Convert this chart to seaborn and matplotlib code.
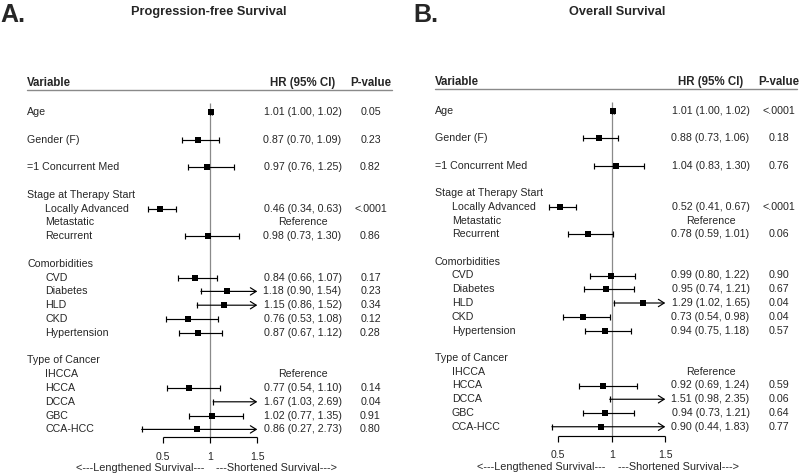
import numpy as np
import pandas as pd
import seaborn as sns
import matplotlib.pyplot as plt
from matplotlib import transforms

# --- data ---
VARIABLES = ["Age", "Gender (F)", "=1 Concurrent Med",
             "Locally Advanced", "Metastatic", "Recurrent",
             "CVD", "Diabetes", "HLD", "CKD", "Hypertension",
             "IHCCA", "HCCA", "DCCA", "GBC", "CCA-HCC"]
GROUPS = [None, None, None,
          "Stage at Therapy Start", "Stage at Therapy Start", "Stage at Therapy Start",
          "Comorbidities", "Comorbidities", "Comorbidities", "Comorbidities", "Comorbidities",
          "Type of Cancer", "Type of Cancer", "Type of Cancer", "Type of Cancer", "Type of Cancer"]

# progression-free survival (NaN = reference level)
PFS_HR = [1.01, 0.87, 0.97, 0.46, np.nan, 0.98, 0.84, 1.18, 1.15, 0.76, 0.87, np.nan, 0.77, 1.67, 1.02, 0.86]
PFS_LO = [1.00, 0.70, 0.76, 0.34, np.nan, 0.73, 0.66, 0.90, 0.86, 0.53, 0.67, np.nan, 0.54, 1.03, 0.77, 0.27]
PFS_HI = [1.02, 1.09, 1.25, 0.63, np.nan, 1.30, 1.07, 1.54, 1.52, 1.08, 1.12, np.nan, 1.10, 2.69, 1.35, 2.73]
PFS_P = ["0.05", "0.23", "0.82", "<.0001", "", "0.86", "0.17", "0.23", "0.34", "0.12", "0.28",
         "", "0.14", "0.04", "0.91", "0.80"]

# overall survival
OS_HR = [1.01, 0.88, 1.04, 0.52, np.nan, 0.78, 0.99, 0.95, 1.29, 0.73, 0.94, np.nan, 0.92, 1.51, 0.94, 0.90]
OS_LO = [1.00, 0.73, 0.83, 0.41, np.nan, 0.59, 0.80, 0.74, 1.02, 0.54, 0.75, np.nan, 0.69, 0.98, 0.73, 0.44]
OS_HI = [1.02, 1.06, 1.30, 0.67, np.nan, 1.01, 1.22, 1.21, 1.65, 0.98, 1.18, np.nan, 1.24, 2.35, 1.21, 1.83]
OS_P = ["<.0001", "0.18", "0.76", "<.0001", "", "0.06", "0.90", "0.67", "0.04", "0.04", "0.57",
        "", "0.59", "0.06", "0.64", "0.77"]

X_TICKS = [0.5, 1, 1.5]
X_TICK_LABELS = ["0.5", "1", "1.5"]

W, H = 800, 474
BODY = 7.7
HEAD = 8.3


def build_rows(hr, lo, hi, pv):
    """Assign a row to each variable, with blank rows and group headers."""
    df = pd.DataFrame({"variable": VARIABLES, "group": GROUPS,
                       "hr": hr, "lo": lo, "hi": hi, "p": pv})
    rows, headers = [], []
    r, prev = 0, "__start__"
    for g in df["group"]:
        if g is None or g != prev:
            if r > 0:
                r += 1
            if g is not None:
                headers.append((g, r))
                r += 1
        rows.append(r)
        r += 1
        prev = g
    df["row"] = rows
    return df, headers


def draw_panel(fig, left_px, x_one, ppu, y0, dy, cols, df, headers, letter, title):
    ax = fig.add_axes([left_px / W, 0, 400 / W, 1])
    xlim = (1 + (left_px - x_one) / ppu, 1 + (left_px + 400 - x_one) / ppu)
    ylim = ((H - y0) / dy, -y0 / dy)
    tr = transforms.blended_transform_factory(fig.transFigure, ax.transData)
    var_x, ind_x, hr_x, p_x, line_end = [c / W for c in cols]
    xmax = X_TICKS[-1]

    # header
    hy = -28.5 / dy
    ax.text(var_x, hy, "Variable", transform=tr, fontsize=HEAD, fontweight="bold", va="center")
    ax.text(hr_x, hy, "HR (95% CI)", transform=tr, fontsize=HEAD, fontweight="bold",
            va="center", ha="center")
    ax.text(p_x, hy, "P-value", transform=tr, fontsize=HEAD, fontweight="bold",
            va="center", ha="center")
    ax.plot([var_x, line_end], [-21.5 / dy] * 2, transform=tr, color="#8a8a8a", lw=1)

    # reference line and axis
    axis_row = 325 / dy
    ax.vlines(1, -9 / dy, axis_row, color="#8a8a8a", lw=0.9)
    ax.hlines(axis_row, X_TICKS[0], X_TICKS[-1], color="black", lw=0.85)
    ax.vlines(X_TICKS, axis_row, axis_row + 6 / dy, color="black", lw=0.85)
    for t, lab in zip(X_TICKS, X_TICK_LABELS):
        ax.text(t, axis_row + 20 / dy, lab, fontsize=7.6, ha="center", va="center")
    ax.text(1 - 6 / ppu, axis_row + 31.5 / dy, "<---Lengthened Survival---",
            fontsize=7.8, ha="right", va="center")
    ax.text(1 + 6 / ppu, axis_row + 31.5 / dy, "---Shortened Survival--->",
            fontsize=7.8, ha="left", va="center")

    # labels and table columns
    for g, r in headers:
        ax.text(var_x, r, g, transform=tr, fontsize=BODY, va="center")
    for _, d in df.iterrows():
        x = ind_x if d["group"] is not None else var_x
        ax.text(x, d["row"], d["variable"], transform=tr, fontsize=BODY, va="center")
        if np.isnan(d["hr"]):
            ax.text(hr_x, d["row"], "Reference", transform=tr, fontsize=BODY,
                    va="center", ha="center")
        else:
            ax.text(hr_x, d["row"], f"{d['hr']:.2f} ({d['lo']:.2f}, {d['hi']:.2f})",
                    transform=tr, fontsize=BODY, va="center", ha="center")
            ax.text(p_x, d["row"], d["p"], transform=tr, fontsize=BODY,
                    va="center", ha="center")

    # confidence intervals
    est = df.dropna(subset=["hr"])
    cap = 3 / dy
    inside = est[est["hi"] <= xmax]
    ax.hlines(inside["row"], inside["lo"], inside["hi"], color="black", lw=0.85)
    ax.vlines(inside["hi"], inside["row"] - cap, inside["row"] + cap, color="black", lw=0.85)
    ax.vlines(est["lo"], est["row"] - cap, est["row"] + cap, color="black", lw=0.85)
    for _, d in est[est["hi"] > xmax].iterrows():
        ax.annotate("", xy=(xmax, d["row"]), xytext=(d["lo"], d["row"]),
                    arrowprops=dict(arrowstyle="->,head_length=0.35,head_width=0.22",
                                    color="black", lw=0.85, shrinkA=0, shrinkB=0))

    # point estimates (clipped at the axis limit)
    pts = est[est["hr"] <= xmax]
    sns.scatterplot(data=pts, x="hr", y="row", marker="s", s=23, color="black",
                    linewidth=0, ax=ax, legend=False, zorder=3)
    ax.set_xlim(*xlim)
    ax.set_ylim(*ylim)
    ax.axis("off")

    fig.text((left_px + (209 if letter == "A." else 217)) / W, 1 - 12 / H, title,
             fontsize=9.2, fontweight="bold", ha="center", va="center")
    fig.text((left_px + (0 if letter == "A." else 13)) / W, 1 - 15.5 / H, letter,
             fontsize=18, fontweight="bold", ha="left", va="center")


def main():
    sns.set_theme(style="white")
    plt.rcParams["font.family"] = ["Liberation Sans", "DejaVu Sans"]

    fig = plt.figure(figsize=(W / 100, H / 100), dpi=100)
    fig.patch.set_facecolor("white")

    pfs, pfs_head = build_rows(PFS_HR, PFS_LO, PFS_HI, PFS_P)
    os_, os_head = build_rows(OS_HR, OS_LO, OS_HI, OS_P)

    draw_panel(fig, 0, 210.3, 94.0, 112, 13.8, (27, 45, 302.5, 370.5, 392),
               pfs, pfs_head, "A.", "Progression-free Survival")
    draw_panel(fig, 400, 611.8, 107.0, 110.5, 13.75, (435, 452, 710.5, 779, 797),
               os_, os_head, "B.", "Overall Survival")

    fig.savefig("out.png", dpi=100, facecolor="white")
    plt.close(fig)


if __name__ == "__main__":
    main()
